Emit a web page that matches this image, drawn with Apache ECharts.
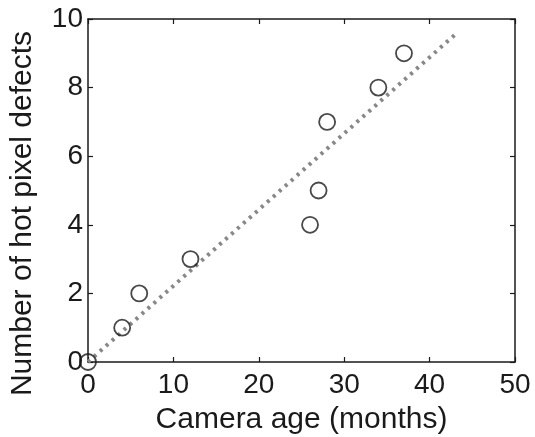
<!DOCTYPE html>
<html>
<head>
<meta charset="utf-8">
<script src="https://cdn.jsdelivr.net/npm/echarts@6/dist/echarts.min.js"></script>
<style>
  html, body { margin: 0; padding: 0; background: #fff; }
  #chart { width: 535px; height: 437px; }
</style>
</head>
<body>
<div id="chart"></div>
<script>
// Camera age (months) vs. number of hot pixel defects
const cameraAge = [0, 4, 6, 12, 26, 27, 28, 34, 37];
const hotPixels = [0, 1, 2, 3, 4, 5, 7, 8, 9];
// Fitted trend line endpoints (age, defects)
const trendAge = [0, 43];
const trendDefects = [0, 9.55];

const xTicks = [0, 10, 20, 30, 40, 50];
const yTicks = [0, 2, 4, 6, 8, 10];

const font = 'Liberation Sans, Arial, sans-serif';
const ink = '#1a1a1a';

const chart = echarts.init(document.getElementById('chart'), null, { renderer: 'canvas' });

const axisLine = { show: true, onZero: false, lineStyle: { color: ink, width: 1.5 } };
const axisTick = { show: true, inside: true, length: 5, lineStyle: { color: ink, width: 1.2 } };

// top and right axes only close the box and carry inward ticks
const mirrorAxis = {
  show: true,
  axisLine: axisLine,
  axisTick: axisTick,
  axisLabel: { show: false },
  splitLine: { show: false }
};

chart.setOption({
  animation: false,
  backgroundColor: '#fff',
  grid: { left: 88, top: 19, right: 20, bottom: 75, containLabel: false, outerBoundsMode: 'none' },
  xAxis: [
    {
      type: 'value',
      min: xTicks[0], max: xTicks[xTicks.length - 1], interval: 10,
      name: 'Camera age (months)',
      nameLocation: 'middle',
      nameGap: 43,
      nameTextStyle: { fontFamily: font, fontSize: 30, color: ink },
      axisLine: axisLine,
      axisTick: axisTick,
      axisLabel: { fontFamily: font, fontSize: 28, color: ink, margin: 9 },
      splitLine: { show: false }
    },
    Object.assign({ type: 'value', position: 'top', min: 0, max: 50, interval: 10 }, mirrorAxis)
  ],
  yAxis: [
    {
      type: 'value',
      min: yTicks[0], max: yTicks[yTicks.length - 1], interval: 2,
      name: 'Number of hot pixel defects',
      nameLocation: 'middle',
      nameGap: 50,
      nameTextStyle: { fontFamily: font, fontSize: 30, color: ink, padding: [0, 46, 0, 0] },
      axisLine: axisLine,
      axisTick: axisTick,
      axisLabel: { fontFamily: font, fontSize: 28, color: ink, margin: 5 },
      splitLine: { show: false }
    },
    Object.assign({ type: 'value', position: 'right', min: 0, max: 10, interval: 2 }, mirrorAxis)
  ],
  series: [
    {
      type: 'line',
      data: trendAge.map((a, i) => [a, trendDefects[i]]),
      symbol: 'none',
      lineStyle: { color: '#888888', width: 4, type: [3, 5], cap: 'butt' },
      z: 2
    },
    {
      type: 'scatter',
      data: cameraAge.map((a, i) => [a, hotPixels[i]]),
      symbol: 'circle',
      symbolSize: 16,
      itemStyle: { color: 'rgba(0,0,0,0)', borderColor: ink, borderWidth: 1.8 },
      z: 3
    }
  ]
});
</script>
</body>
</html>
